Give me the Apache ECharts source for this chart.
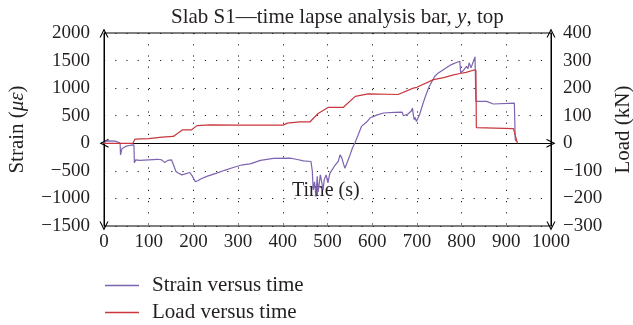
<!DOCTYPE html>
<html>
<head>
<meta charset="utf-8">
<script src="https://cdn.jsdelivr.net/npm/echarts@6/dist/echarts.min.js"></script>
<style>html,body{margin:0;padding:0;background:#fff}#c{width:633px;height:325px}</style>
</head>
<body>
<div id="c"></div>
<script>
// ---- data ----
var strainTime = [0,5,25,36,37,40,50,60,67,68,71,73,80,100,120,129,136,143,151,161,166,174,180,192,198,204,210,215,230,252,270,289,310,327,350,379,416,430,446,463,466,468,471,474,477,479,482,484,487,490,493,497,501,505,515,524,528,532,536,539,543,550,556,562,568,576,588,595,610,625,650,667,670,680,688,690,692,694,696,699,702,706,714,720,726,733,740,744,748,760,777,790,796,798,805,811,814,817,821,826,830,832,856,871,918,920,923];
var strainValues = [0,45,40,5,-210,-100,-50,-35,-30,-355,-300,-280,-310,-300,-290,-300,-350,-310,-300,-512,-540,-573,-560,-530,-600,-694,-680,-651,-600,-542,-490,-439,-390,-373,-310,-275,-270,-290,-318,-330,-500,-845,-700,-967,-600,-880,-700,-573,-700,-845,-650,-575,-718,-550,-420,-330,-209,-264,-380,-451,-370,-220,-80,20,140,306,390,458,510,549,560,565,500,530,590,640,520,427,470,396,450,520,730,870,1003,1110,1215,1230,1276,1340,1427,1470,1488,1276,1330,1397,1350,1458,1367,1480,1567,760,760,712,730,64,33];
var loadTime = [0,65,69,100,130,155,176,196,208,237,300,401,410,438,461,479,501,535,562,591,658,692,700,737,760,780,796,810,826,832,833,916,920,925];
var loadValues = [0,0,15,17,22,25,49,49,64,67,66,66,73,78,78,108,130,130,170,179,177,200,203,231,238,247,253,257,265,265,57,53,53,0];
var xTicks = {min:0, max:1000, step:100};
var strainTicks = {min:-1500, max:2000, step:500};
var loadTicks = {min:-300, max:400, step:100};
var seriesNames = ['Strain versus time','Load versus time'];
var titleText = 'Slab S1\u2014time lapse analysis bar, {i|y}, top';
var xName = 'Time (s)';

function zip(a,b){return a.map(function(t,i){return [t,b[i]];});}
var FONT = 'Liberation Serif';
var TXT = '#231f20';
var chevron = 'path://M0,10 L5,0 L10,10 L8.7,10 L5,2.8 L1.3,10 Z';
function minus(v){return String(v).replace('-', '\u2212');}
function legendItem(i, top){
  return {orient:'vertical',left:105,top:top,padding:0,itemWidth:34,itemHeight:1.3,icon:'rect',
    data:[seriesNames[i]],
    textStyle:{fontFamily:FONT,fontSize:21,color:TXT,padding:[0,0,0,8]}};
}

var chart = echarts.init(document.getElementById('c'));
chart.setOption({
  animation:false,
  backgroundColor:'#fff',
  title:{text:titleText,left:166,top:2,
    textStyle:{fontFamily:FONT,fontSize:21,fontWeight:'normal',color:TXT,
      rich:{i:{fontFamily:FONT,fontSize:21,fontStyle:'italic',color:TXT}}}},
  legend:[legendItem(0,275),legendItem(1,302)],
  graphic:[{type:'text',left:292,top:181,style:{text:xName,font:'20px "Liberation Serif"',fill:TXT}}],
  grid:{left:104,right:82,top:33,bottom:99,containLabel:false,outerBoundsMode:'none',
    show:true,borderColor:'#000',borderWidth:1},
  xAxis:{type:'value',min:xTicks.min,max:xTicks.max,interval:xTicks.step,
    axisLine:{onZero:true,lineStyle:{color:'#000',width:1},symbol:[chevron,chevron],symbolSize:[11,9]},
    axisTick:{show:false},
    axisLabel:{fontFamily:FONT,fontSize:19,color:TXT,margin:7,formatter:function(v){return String(v);}},
    splitLine:{show:true,lineStyle:{color:'#222',width:1,type:[1.2,10]}}},
  yAxis:[{type:'value',min:strainTicks.min,max:strainTicks.max,interval:strainTicks.step,position:'left',
    name:'Strain ({i|\u03bc\u03b5})',nameLocation:'middle',nameGap:76,nameRotate:90,
    nameTextStyle:{fontFamily:FONT,fontSize:21,color:TXT,rich:{i:{fontFamily:FONT,fontSize:21,fontStyle:'italic',color:TXT}}},
    axisLine:{show:true,onZero:false,lineStyle:{color:'#000',width:1},symbol:[chevron,chevron],symbolSize:[11,9]},
    axisTick:{show:false},
    axisLabel:{fontFamily:FONT,fontSize:19,color:TXT,margin:14,formatter:minus},
    splitLine:{show:true,lineStyle:{color:'#222',width:1,type:[1.2,10]}}},
   {type:'value',min:loadTicks.min,max:loadTicks.max,interval:loadTicks.step,position:'right',
    name:'Load (kN)',nameLocation:'middle',nameGap:61,nameRotate:90,
    nameTextStyle:{fontFamily:FONT,fontSize:21,color:TXT},
    axisLine:{show:true,onZero:false,lineStyle:{color:'#000',width:1},symbol:[chevron,chevron],symbolSize:[11,9]},
    axisTick:{show:false},
    axisLabel:{fontFamily:FONT,fontSize:19,color:TXT,margin:12,formatter:minus},
    splitLine:{show:false}}],
  series:[
    {name:seriesNames[0],type:'line',yAxisIndex:0,data:zip(strainTime,strainValues),symbol:'none',
     color:'#7d63b0',lineStyle:{width:1.2,color:'#7d63b0'}},
    {name:seriesNames[1],type:'line',yAxisIndex:1,data:zip(loadTime,loadValues),symbol:'none',
     color:'#c9373c',lineStyle:{width:1.2,color:'#c9373c'}}
  ]
});
</script>
</body>
</html>
